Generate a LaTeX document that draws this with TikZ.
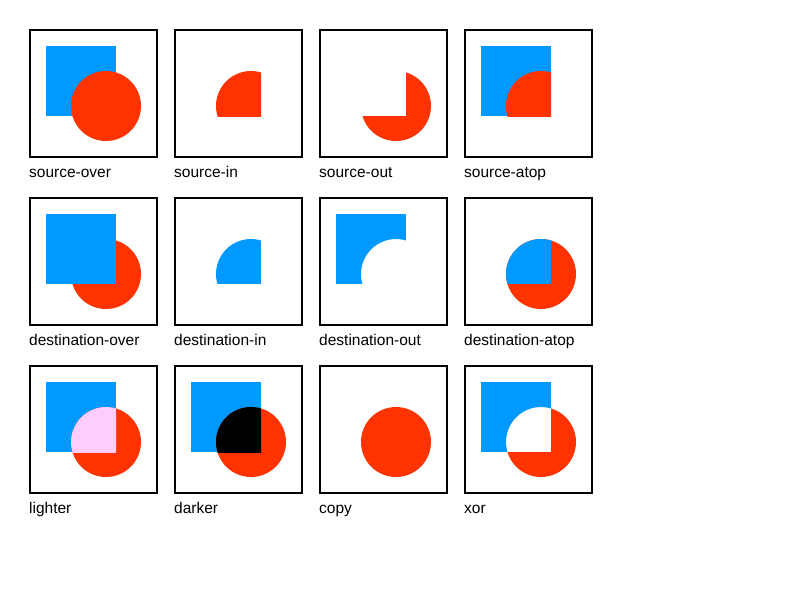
\documentclass[tikz,border=0pt]{standalone}
\usepackage{fontspec}
\setmainfont{Liberation Sans}
\usetikzlibrary{positioning}
\definecolor{dblue}{HTML}{0099FF}
\definecolor{sred}{HTML}{FF3300}
\definecolor{lpink}{HTML}{FFCCFF}
% destination square and source circle, local to one cell
\newcommand{\dsq}{(16,16) rectangle (86,86)}
\newcommand{\scirc}{(76,76) circle[radius=35]}
\newcommand{\cell}{(-5,-5) rectangle (132,132)}

\begin{document}
\begin{tikzpicture}[x=1pt, y=-1pt,
  frame/.style={draw=black, line width=2pt, fill=white},
  dst/.style={fill=dblue},
  src/.style={fill=sred},
  lbl/.style={font=\fontsize{15.5}{18}\selectfont, inner sep=0pt, anchor=base west},
]
\useasboundingbox[fill=white] (0,0) rectangle (800,600);
% row 1
\begin{scope}[shift={(30,30)}]
  \draw[frame] (0,0) rectangle (127,127);
  \fill[dst] \dsq;
  \fill[src] \scirc;
  \node[lbl] (srcover) at (-1,147) {source-over};
\end{scope}
\begin{scope}[shift={(175,30)}]
  \draw[frame] (0,0) rectangle (127,127);
  \begin{scope}
    \clip \dsq;
    \fill[src] \scirc;
  \end{scope}
  \node[lbl] (srcin) at (-1,147) {source-in};
\end{scope}
\begin{scope}[shift={(320,30)}]
  \draw[frame] (0,0) rectangle (127,127);
  \begin{scope}[even odd rule]
    \clip \cell \dsq;
    \fill[src] \scirc;
  \end{scope}
  \node[lbl] (srcout) at (-1,147) {source-out};
\end{scope}
\begin{scope}[shift={(465,30)}]
  \draw[frame] (0,0) rectangle (127,127);
  \fill[dst] \dsq;
  \begin{scope}
    \clip \dsq;
    \fill[src] \scirc;
  \end{scope}
  \node[lbl] (srcatop) at (-1,147) {source-atop};
\end{scope}
% row 2
\begin{scope}[shift={(30,198)}]
  \draw[frame] (0,0) rectangle (127,127);
  \fill[src] \scirc;
  \fill[dst] \dsq;
  \node[lbl] (dstover) at (-1,147) {destination-over};
\end{scope}
\begin{scope}[shift={(175,198)}]
  \draw[frame] (0,0) rectangle (127,127);
  \begin{scope}
    \clip \scirc;
    \fill[dst] \dsq;
  \end{scope}
  \node[lbl] (dstin) at (-1,147) {destination-in};
\end{scope}
\begin{scope}[shift={(320,198)}]
  \draw[frame] (0,0) rectangle (127,127);
  \begin{scope}[even odd rule]
    \clip \cell \scirc;
    \fill[dst] \dsq;
  \end{scope}
  \node[lbl] (dstout) at (-1,147) {destination-out};
\end{scope}
\begin{scope}[shift={(465,198)}]
  \draw[frame] (0,0) rectangle (127,127);
  \fill[src] \scirc;
  \begin{scope}
    \clip \scirc;
    \fill[dst] \dsq;
  \end{scope}
  \node[lbl] (dstatop) at (-1,147) {destination-atop};
\end{scope}
% row 3
\begin{scope}[shift={(30,366)}]
  \draw[frame] (0,0) rectangle (127,127);
  \fill[dst] \dsq;
  \fill[src] \scirc;
  \begin{scope}
    \clip \dsq;
    \fill[lpink] \scirc;
  \end{scope}
  \node[lbl] (lighter) at (-1,147) {lighter};
\end{scope}
\begin{scope}[shift={(175,366)}]
  \draw[frame] (0,0) rectangle (127,127);
  \fill[dst] \dsq;
  \fill[src] \scirc;
  \begin{scope}
    \clip \dsq;
    \fill[black] \scirc;
  \end{scope}
  \node[lbl] (darker) at (-1,147) {darker};
\end{scope}
\begin{scope}[shift={(320,366)}]
  \draw[frame] (0,0) rectangle (127,127);
  \fill[src] \scirc;
  \node[lbl] (copy) at (-1,147) {copy};
\end{scope}
\begin{scope}[shift={(465,366)}]
  \draw[frame] (0,0) rectangle (127,127);
  \begin{scope}[even odd rule]
    \clip \cell \scirc;
    \fill[dst] \dsq;
  \end{scope}
  \begin{scope}[even odd rule]
    \clip \cell \dsq;
    \fill[src] \scirc;
  \end{scope}
  \node[lbl] (xor) at (-1,147) {xor};
\end{scope}
\end{tikzpicture}
\end{document}
